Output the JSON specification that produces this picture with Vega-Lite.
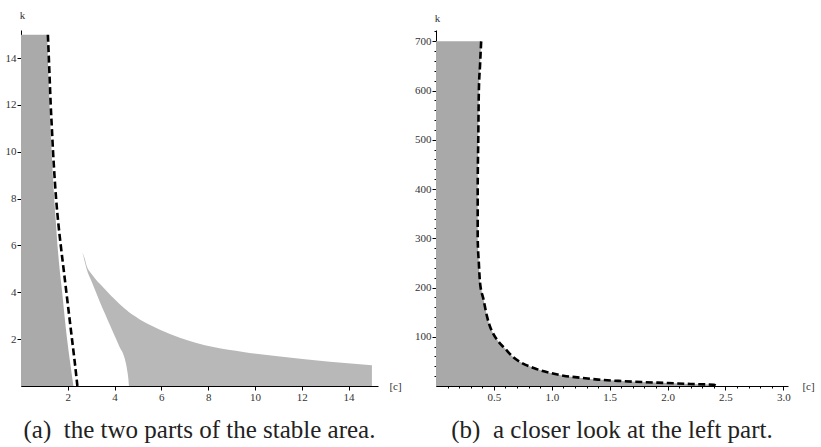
{
  "$schema": "https://vega.github.io/schema/vega-lite/v6.json",
  "autosize": {"type": "pad"},
  "padding": {"left": 5, "top": 9, "right": 0, "bottom": 0},
  "bounds": "flush",
  "spacing": 58,
  "background": "white",
  "config": {
    "view": {"stroke": null},
    "font": "Liberation Serif",
    "axis": {
      "domainColor": "#000000",
      "domainWidth": 1,
      "tickColor": "#000000",
      "tickWidth": 1,
      "grid": false,
      "labelFont": "Liberation Serif",
      "labelFontSize": 11,
      "labelColor": "#333333",
      "labelPadding": 1,
      "labelOverlap": false,
      "labelBound": false,
      "labelFlush": false,
      "tickCount": 200,
      "titleFont": "Liberation Serif",
      "titleFontSize": 11,
      "titleFontWeight": "normal",
      "titleColor": "#333333"
    },
    "title": {"font": "Liberation Serif", "fontSize": 25, "fontWeight": "normal", "color": "#222222"}
  },
  "datasets": {
    "leftGray": [
      {"k": 0, "c": 2.24}, {"k": 1, "c": 2.1}, {"k": 2, "c": 1.97}, {"k": 3, "c": 1.86},
      {"k": 4, "c": 1.76}, {"k": 5, "c": 1.65}, {"k": 6, "c": 1.56}, {"k": 7, "c": 1.49},
      {"k": 8, "c": 1.42}, {"k": 9, "c": 1.36}, {"k": 10, "c": 1.31}, {"k": 11, "c": 1.26},
      {"k": 12, "c": 1.22}, {"k": 13, "c": 1.18}, {"k": 14, "c": 1.15}, {"k": 15, "c": 1.12}
    ],
    "leftDash": [
      {"k": 0, "c": 2.41}, {"k": 1, "c": 2.3}, {"k": 2, "c": 2.18}, {"k": 3, "c": 2.06},
      {"k": 4, "c": 1.94}, {"k": 5, "c": 1.82}, {"k": 6, "c": 1.7}, {"k": 7, "c": 1.59},
      {"k": 8, "c": 1.5}, {"k": 9, "c": 1.43}, {"k": 10, "c": 1.37}, {"k": 11, "c": 1.32},
      {"k": 12, "c": 1.27}, {"k": 13, "c": 1.23}, {"k": 14, "c": 1.19}, {"k": 15, "c": 1.15}
    ],
    "cusp": [
      {"c": 2.63, "lo": 5.69, "k": 5.69}, {"c": 2.72, "lo": 5.33, "k": 5.45},
      {"c": 2.81, "lo": 4.98, "k": 5.12}, {"c": 3.0, "lo": 4.5, "k": 4.8},
      {"c": 3.2, "lo": 4.01, "k": 4.55}, {"c": 3.38, "lo": 3.56, "k": 4.35},
      {"c": 3.6, "lo": 3.06, "k": 4.12}, {"c": 3.8, "lo": 2.6, "k": 3.91},
      {"c": 3.94, "lo": 2.28, "k": 3.77}, {"c": 4.2, "lo": 1.7, "k": 3.51},
      {"c": 4.44, "lo": 1.15, "k": 3.3}, {"c": 4.55, "lo": 0.6, "k": 3.21},
      {"c": 4.59, "lo": 0.3, "k": 3.17}, {"c": 4.62, "lo": 0, "k": 3.15},
      {"c": 5.23, "lo": 0, "k": 2.75}, {"c": 5.94, "lo": 0, "k": 2.4},
      {"c": 6.79, "lo": 0, "k": 2.06}, {"c": 7.5, "lo": 0, "k": 1.84},
      {"c": 8.22, "lo": 0, "k": 1.66}, {"c": 9.5, "lo": 0, "k": 1.45},
      {"c": 11.07, "lo": 0, "k": 1.26}, {"c": 13.2, "lo": 0, "k": 1.04},
      {"c": 15.0, "lo": 0, "k": 0.89}
    ],
    "rightCurve": [
      {"k": 0, "c": 2.42}, {"k": 2.5, "c": 2.4}, {"k": 4, "c": 2.2}, {"k": 6, "c": 2.0},
      {"k": 8, "c": 1.78}, {"k": 10, "c": 1.6}, {"k": 13, "c": 1.4}, {"k": 17, "c": 1.24},
      {"k": 21, "c": 1.1}, {"k": 27, "c": 0.98}, {"k": 36, "c": 0.85}, {"k": 47, "c": 0.74},
      {"k": 60, "c": 0.66}, {"k": 75, "c": 0.6}, {"k": 90, "c": 0.54}, {"k": 108, "c": 0.49},
      {"k": 125, "c": 0.46}, {"k": 142, "c": 0.44}, {"k": 176, "c": 0.41}, {"k": 210, "c": 0.38},
      {"k": 250, "c": 0.37}, {"k": 300, "c": 0.36}, {"k": 400, "c": 0.36}, {"k": 500, "c": 0.365},
      {"k": 600, "c": 0.37}, {"k": 650, "c": 0.38}, {"k": 700, "c": 0.39}
    ]
  },
  "hconcat": [
    {
      "width": 357,
      "height": 356,
      "title": {"text": "(a)\u00a0\u00a0the two parts of the stable area.", "orient": "bottom", "offset": 16},
      "encoding": {
        "y": {
          "field": "k", "type": "quantitative", "title": "k",
          "scale": {"domain": [0, 15.2], "nice": false, "zero": true},
          "axis": {
            "values": [2, 4, 6, 8, 10, 12, 14],
            "tickCount": 200,
            "format": "d",
            "tickSize": 4,
            "titleAngle": 0, "titleX": 1, "titleY": -15, "titleAlign": "center", "titleBaseline": "middle"
          }
        },
        "x": {
          "field": "c", "type": "quantitative", "title": "[c]",
          "scale": {"domain": [0, 15.26], "nice": false, "zero": true},
          "axis": {
            "values": [2, 4, 6, 8, 10, 12, 14],
            "tickCount": 200,
            "format": "d",
            "tickSize": 4,
            "titleX": 374, "titleY": 0, "titleAlign": "center", "titleBaseline": "middle"
          }
        }
      },
      "layer": [
        {
          "data": {"name": "leftGray"},
          "mark": {"type": "area", "orient": "horizontal", "color": "#aaaaaa", "interpolate": "monotone", "clip": true},
          "encoding": {"x2": {"datum": 0}}
        },
        {
          "data": {"name": "cusp"},
          "mark": {"type": "area", "orient": "vertical", "color": "#b8b8b8", "interpolate": "monotone", "clip": true},
          "encoding": {"y2": {"field": "lo"}}
        },
        {
          "data": {"name": "leftDash"},
          "mark": {"type": "line", "color": "#000000", "strokeWidth": 2.6, "strokeDash": [7, 3.5], "interpolate": "monotone", "clip": true},
          "encoding": {"order": {"field": "k", "sort": "descending"}}
        }
      ]
    },
    {
      "width": 352,
      "height": 356,
      "title": {"text": "(b)\u00a0\u00a0a closer look at the left part.", "orient": "bottom", "offset": 16},
      "encoding": {
        "y": {
          "field": "k", "type": "quantitative", "title": "k",
          "scale": {"domain": [0, 723], "nice": false, "zero": true},
          "axis": {
            "values": [20,40,60,80,100,120,140,160,180,200,220,240,260,280,300,320,340,360,380,400,420,440,460,480,500,520,540,560,580,600,620,640,660,680,700,720],
            "tickCount": 200,
            "labelExpr": "datum.value % 100 === 0 ? datum.label : ''",
            "labelOverlap": false,
            "format": "d",
            "tickSize": {"condition": {"test": "datum.value % 100 === 0", "value": 4}, "value": 2},
            "titleAngle": 0, "titleX": 1, "titleY": -12, "titleAlign": "center", "titleBaseline": "middle"
          }
        },
        "x": {
          "field": "c", "type": "quantitative", "title": "[c]",
          "scale": {"domain": [0, 3.04], "nice": false, "zero": true},
          "axis": {
            "values": [0.1,0.2,0.3,0.4,0.5,0.6,0.7,0.8,0.9,1.0,1.1,1.2,1.3,1.4,1.5,1.6,1.7,1.8,1.9,2.0,2.1,2.2,2.3,2.4,2.5,2.6,2.7,2.8,2.9,3.0],
            "tickCount": 200,
            "format": ".1f",
            "labelExpr": "abs(datum.value * 2 - round(datum.value * 2)) < 0.001 ? datum.label : ''",
            "labelOverlap": false,
            "tickSize": {"condition": {"test": "abs(datum.value * 2 - round(datum.value * 2)) < 0.001", "value": 4}, "value": 2},
            "titleX": 372, "titleY": 0, "titleAlign": "center", "titleBaseline": "middle"
          }
        }
      },
      "layer": [
        {
          "data": {"name": "rightCurve"},
          "mark": {"type": "area", "orient": "horizontal", "color": "#a9a9a9", "interpolate": "monotone", "clip": true},
          "encoding": {"x2": {"datum": 0}}
        },
        {
          "data": {"name": "rightCurve"},
          "mark": {"type": "line", "color": "#000000", "strokeWidth": 2.6, "strokeDash": [7, 3.5], "interpolate": "monotone", "clip": true},
          "encoding": {"order": {"field": "k", "sort": "descending"}}
        }
      ]
    }
  ]
}
